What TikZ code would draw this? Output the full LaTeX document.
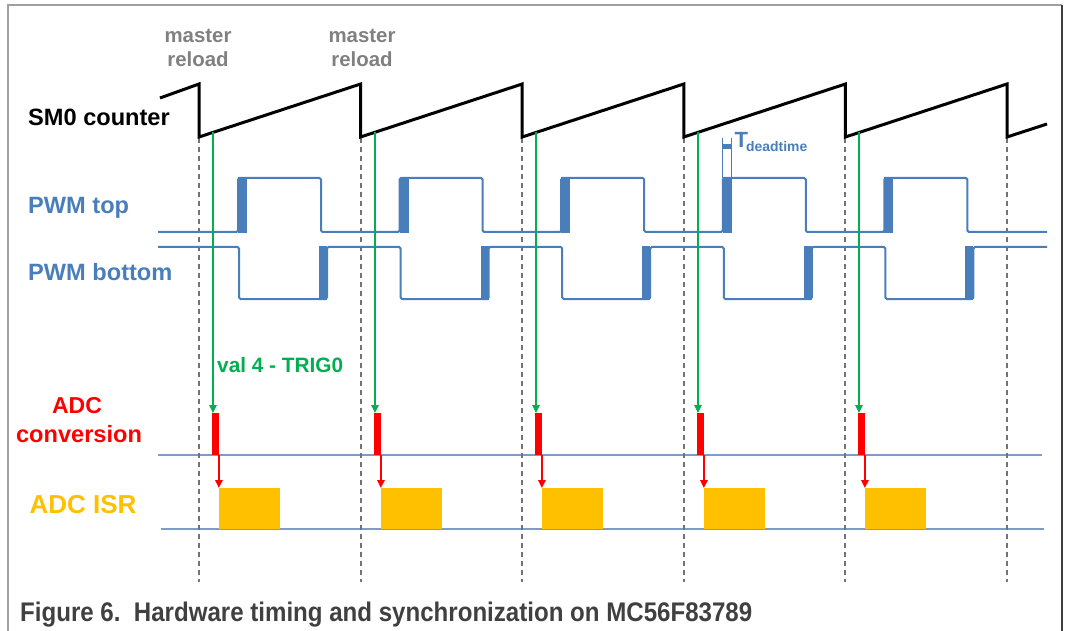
\documentclass[tikz,border=0pt]{standalone}
\usepackage{fontspec}
\usepackage{graphicx}
\setmainfont{Liberation Sans}
\usetikzlibrary{arrows.meta}
\definecolor{pwmblue}{RGB}{74,126,187}
\definecolor{lblgray}{RGB}{128,128,128}
\definecolor{dashgray}{RGB}{115,115,115}
\definecolor{trggreen}{RGB}{0,176,80}
\definecolor{adcred}{RGB}{255,0,0}
\definecolor{isryellow}{RGB}{255,192,0}
\definecolor{capgray}{RGB}{64,64,64}
\definecolor{rowline}{RGB}{125,155,200}
\definecolor{framegray}{RGB}{160,160,160}
\begin{document}
\begin{tikzpicture}[x=1pt,y=-1pt,
  lbl/.style={inner sep=0pt,anchor=base west},
  lblc/.style={inner sep=0pt,anchor=base},
  fbig/.style={font=\fontsize{23.6}{28}\selectfont\bfseries},
  fmid/.style={font=\fontsize{20.4}{24}\selectfont\bfseries},
  saw/.style={line width=3pt,black,line join=miter},
  pwm/.style={line width=2pt,pwmblue,rounded corners=1.5pt},
  reloadline/.style={dashgray,line width=1.8pt,dash pattern=on 5pt off 4pt},
  trigarrow/.style={trggreen,line width=1.6pt,-{Triangle[width=7.5pt,length=8pt]}},
  israrrow/.style={adcred,line width=1.6pt,-{Triangle[width=7.5pt,length=8pt]}},
  convbar/.style={fill=adcred,draw=none,inner sep=0pt,minimum width=7pt,minimum height=42pt,anchor=north west},
  isrbox/.style={fill=isryellow,draw=none,inner sep=0pt,minimum width=61pt,minimum height=41pt,anchor=north west},
  rowsep/.style={rowline,line width=1.3pt}
]
\useasboundingbox (0,0) rectangle (1066,631);
% frame
\draw[framegray,line width=1.5pt] (8,631) -- (8,5) -- (1062,5);
\draw[capgray,line width=2pt] (1062,5) -- (1062,631);

% labels
\node[lblc,fmid,text=lblgray] (mrA1) at (198,43) {master};
\node[lblc,fmid,text=lblgray] (mrB1) at (198,67) {reload};
\node[lblc,fmid,text=lblgray] (mrA2) at (362,43) {master};
\node[lblc,fmid,text=lblgray] (mrB2) at (362,67) {reload};
\node[lbl,fbig] (sm0) at (28,125.5) {SM0 counter};
\node[lbl,fbig,text=pwmblue] (pwmt) at (28,213.5) {PWM top};
\node[lbl,fbig,text=pwmblue] (pwmb) at (28,280.5) {PWM bottom};
\node[lbl,font=\fontsize{20.8}{24}\selectfont\bfseries,text=trggreen] (trig) at (217,372) {val 4 - TRIG0};
\node[lblc,font=\fontsize{23}{28}\selectfont\bfseries,text=adcred] (adcA) at (77,413) {ADC};
\node[lblc,font=\fontsize{23.6}{28}\selectfont\bfseries,text=adcred] (adcB) at (79,442) {conversion};
\node[lblc,font=\fontsize{26}{30}\selectfont\bfseries,text=isryellow] (isr) at (83,513) {ADC ISR};
\node[lbl,font=\fontsize{22}{26}\selectfont\bfseries,text=pwmblue] (tdt) at (734.5,148) {T};
\node[lbl,font=\fontsize{13.9}{16}\selectfont\bfseries,text=pwmblue] (tdtsub) at (746,151.5) {deadtime};
\node[lbl,text=capgray] (cap) at (20,621) {\resizebox{732pt}{19.5pt}{\fontsize{26}{30}\selectfont\bfseries Figure 6.\ \ Hardware timing and synchronization on MC56F83789}};

% row separators
\draw[rowsep] (158,455) -- (1042,455);
\draw[rowsep] (161,529) -- (1044,529);

% reload dashed lines
\foreach \k in {0,...,5}{
  \draw[reloadline] ({round(199+161.6*\k)},138) -- ({round(199+161.6*\k)},582);
}

% sawtooth
\draw[saw] (160,98) -- (199,84) \foreach \k in {0,...,4}{ -- ({199+161.6*\k},137) -- ({360.6+161.6*\k},84)} -- (1007,137) -- (1047,124);

% PWM top
\draw[pwm] (158,232) \foreach \k in {0,...,4}{ -- ({238+161.6*\k},232) -- ({238+161.6*\k},178) -- ({321+161.6*\k},178) -- ({321+161.6*\k},232)} -- (1047,232);
% PWM bottom
\draw[pwm] (158,247) \foreach \k in {0,...,4}{ -- ({239+161.6*\k},247) -- ({239+161.6*\k},299) -- ({327+161.6*\k},299) -- ({327+161.6*\k},247)} -- (1047,247);
% dead-time blocks
\foreach \k in {0,...,4}{
  \fill[pwmblue] ({238+161.6*\k},177) rectangle ({247+161.6*\k},233);
  \fill[pwmblue] ({319+161.6*\k},246) rectangle ({327+161.6*\k},300);
}
% deadtime bracket
\draw[pwmblue,line width=1pt] (722.8,138) -- (722.8,178) (731.8,138) -- (731.8,178);
\fill[pwmblue] (722.8,144) rectangle (731.8,149.5);

% ADC conversions, ISR and triggers
\foreach \k in {0,...,4}{
  \coordinate (g\k) at ({round(213+161.6*\k)},{137-14*53/161.6});
  \node[convbar] (c\k) at ({round(212+161.6*\k)},413) {};
  \node[isrbox] (i\k) at ({round(219+161.6*\k)},488) {};
  \draw[trigarrow] (g\k) -- (g\k |- c\k.north);
  \draw[israrrow] ([xshift=-0.5pt]c\k.south east) -- ([xshift=-0.5pt]c\k.south east |- i\k.north);
}
\end{tikzpicture}
\end{document}
